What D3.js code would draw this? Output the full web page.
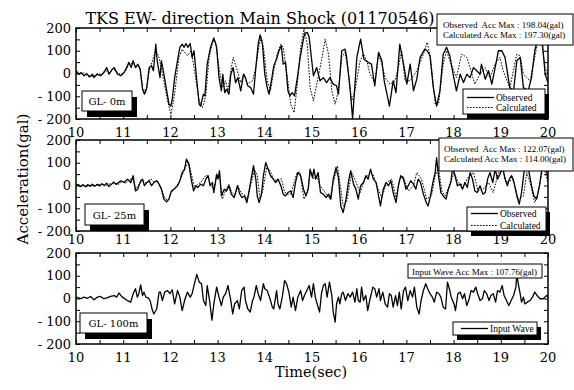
<!DOCTYPE html>
<html><head><meta charset="utf-8">
<script src="https://cdn.jsdelivr.net/npm/d3@7"></script>
<style>body{margin:0;background:#fff}svg{display:block}text{white-space:pre}</style>
</head><body><svg id="c" width="574" height="390"></svg>
<script>
// ---------------- DATA ----------------
const xTickValues = [10,11,12,13,14,15,16,17,18,19,20];
const xTickLabels = ["10","11","12","13","14","15","16","17","18","19","20"];
const yTickValues = [-200,-100,0,100,200];
const yTickLabels = ["- 200","- 100","0","100","200"];
const panelNames = ["GL- 0m","GL- 25m","GL- 100m"];
const titleText = "TKS EW- direction Main Shock (01170546)";
const xTitle = "Time(sec)";
const yTitle = "Acceleration(gal)";
const maxTexts0 = ["Observed  Acc Max : 198.04(gal)","Calculated Acc Max : 197.30(gal)"];
const maxTexts1 = ["Observed  Acc Max : 122.07(gal)","Calculated Acc Max : 114.00(gal)"];
const maxTexts2 = ["Input Wave Acc Max : 107.76(gal)"];
const legendNames = ["Observed","Calculated","Input Wave"];

// time (s), acceleration (gal)
const gl0Observed = [[10.00,12],[10.06,-3],[10.11,4],[10.17,-10],[10.23,0],[10.28,-15],[10.35,-3],[10.38,-18],[10.45,-3],[10.52,-10],[10.59,4],[10.65,26],[10.70,-3],[10.77,19],[10.81,26],[10.88,-3],[10.95,-10],[11.02,4],[11.09,34],[11.12,49],[11.17,26],[11.21,56],[11.26,26],[11.31,41],[11.36,19],[11.41,-69],[11.45,-91],[11.50,-62],[11.55,26],[11.60,34],[11.64,12],[11.69,129],[11.72,56],[11.78,-18],[11.81,56],[11.85,12],[11.97,-135],[12.01,-143],[12.04,-113],[12.09,-18],[12.15,56],[12.20,115],[12.25,129],[12.29,115],[12.33,132],[12.37,115],[12.42,132],[12.46,71],[12.50,100],[12.56,-32],[12.61,-135],[12.64,-143],[12.70,-91],[12.73,-98],[12.78,41],[12.85,115],[12.92,156],[12.98,115],[13.03,-18],[13.08,-76],[13.11,-3],[13.15,-84],[13.19,-69],[13.24,-91],[13.28,-3],[13.33,26],[13.38,-40],[13.43,-18],[13.49,-76],[13.55,-3],[13.59,-18],[13.64,-54],[13.70,-62],[13.76,-91],[13.81,26],[13.86,129],[13.90,170],[13.95,129],[14.00,-3],[14.05,-62],[14.09,-91],[14.14,-32],[14.19,34],[14.25,63],[14.30,100],[14.35,122],[14.39,41],[14.44,49],[14.49,-76],[14.53,-98],[14.58,-84],[14.63,-98],[14.69,-18],[14.75,71],[14.80,129],[14.84,173],[14.90,181],[14.94,159],[15.03,-10],[15.10,26],[15.17,-32],[15.24,-18],[15.31,-40],[15.38,-18],[15.45,-47],[15.52,-54],[15.56,-91],[15.63,100],[15.70,107],[15.73,78],[15.81,-76],[15.86,-198],[15.95,71],[16.03,151],[16.10,63],[16.19,49],[16.26,41],[16.33,-54],[16.41,93],[16.48,56],[16.53,-32],[16.64,-143],[16.72,-32],[16.78,-84],[16.86,129],[16.94,41],[17.01,-47],[17.08,41],[17.15,-76],[17.22,-25],[17.29,71],[17.39,107],[17.44,100],[17.50,78],[17.57,-62],[17.64,-143],[17.71,-76],[17.78,85],[17.85,115],[17.92,78],[17.99,-3],[18.06,-76],[18.14,-3],[18.21,-40],[18.28,-3],[18.35,-18],[18.42,26],[18.49,12],[18.56,-3],[18.59,41],[18.67,-25],[18.74,12],[18.81,-47],[18.88,26],[18.95,100],[19.02,100],[19.09,71],[19.19,-62],[19.27,-76],[19.34,56],[19.41,71],[19.48,-62],[19.58,-76],[19.65,-18],[19.72,100],[19.80,170],[19.87,160],[19.94,-3],[20.00,-40]];
const gl0Calculated = [[10.00,8],[10.08,-5],[10.15,5],[10.22,-8],[10.30,-10],[10.38,-12],[10.45,0],[10.55,-5],[10.62,15],[10.70,0],[10.78,20],[10.85,10],[10.95,-5],[11.05,10],[11.12,40],[11.20,45],[11.28,30],[11.35,30],[11.41,-62],[11.48,-84],[11.55,12],[11.69,100],[11.76,71],[11.86,-32],[11.94,-120],[12.01,-179],[12.08,-106],[12.18,71],[12.25,107],[12.36,78],[12.44,100],[12.50,26],[12.61,-121],[12.68,-150],[12.75,-98],[12.82,71],[12.91,151],[12.96,137],[13.03,26],[13.10,-62],[13.17,-32],[13.22,-76],[13.28,12],[13.33,71],[13.42,12],[13.49,-40],[13.56,-3],[13.63,-47],[13.74,-32],[13.81,26],[13.88,129],[13.93,159],[13.98,100],[14.05,-32],[14.12,-76],[14.19,12],[14.26,85],[14.34,129],[14.39,115],[14.48,-18],[14.55,-135],[14.62,-172],[14.69,-47],[14.76,115],[14.83,197],[14.90,129],[14.96,-62],[15.03,-121],[15.10,-47],[15.20,56],[15.28,151],[15.35,85],[15.42,-76],[15.49,-135],[15.56,-76],[15.63,71],[15.70,93],[15.77,12],[15.84,-121],[15.91,-76],[16.02,56],[16.09,85],[16.16,56],[16.23,-3],[16.33,-40],[16.41,85],[16.48,41],[16.55,-18],[16.65,-47],[16.76,-32],[16.83,26],[16.90,100],[16.97,-32],[17.08,-32],[17.22,12],[17.36,85],[17.44,137],[17.51,71],[17.61,-135],[17.68,-135],[17.78,41],[17.85,100],[17.92,56],[18.06,-18],[18.17,85],[18.28,71],[18.35,26],[18.45,-47],[18.56,-3],[18.67,26],[18.77,-18],[18.88,41],[18.98,71],[19.05,12],[19.19,-62],[19.34,85],[19.41,78],[19.48,-3],[19.62,-32],[19.83,188],[19.94,26],[20.00,-3]];
const gl25Observed = [[10.00,0],[10.05,5],[10.10,-5],[10.15,3],[10.20,-6],[10.25,4],[10.30,-4],[10.35,6],[10.40,-3],[10.45,5],[10.50,-2],[10.55,8],[10.60,0],[10.65,10],[10.70,-5],[10.75,5],[10.80,15],[10.85,5],[10.95,21],[11.02,13],[11.09,28],[11.16,13],[11.21,43],[11.26,-24],[11.31,-16],[11.37,21],[11.41,28],[11.45,-1],[11.50,13],[11.55,21],[11.60,-1],[11.65,13],[11.71,21],[11.76,6],[11.81,-16],[11.86,-60],[11.92,-72],[11.97,-60],[12.02,-24],[12.08,-16],[12.15,-1],[12.20,21],[12.25,57],[12.30,72],[12.34,116],[12.39,94],[12.44,28],[12.49,-24],[12.54,-1],[12.58,-9],[12.64,6],[12.70,-1],[12.75,28],[12.80,43],[12.84,-1],[12.89,13],[12.92,-31],[12.98,50],[13.01,28],[13.04,65],[13.08,-46],[13.14,-16],[13.19,-24],[13.24,-1],[13.29,-38],[13.35,-53],[13.42,-1],[13.47,-38],[13.52,-53],[13.57,-46],[13.62,-75],[13.66,-31],[13.71,28],[13.76,87],[13.81,28],[13.84,-46],[13.88,-75],[13.93,-38],[13.97,43],[14.02,101],[14.07,72],[14.12,43],[14.18,28],[14.23,13],[14.28,28],[14.34,-1],[14.39,-38],[14.44,-46],[14.49,-31],[14.55,-24],[14.60,-53],[14.65,13],[14.70,57],[14.76,43],[14.82,-16],[14.87,-46],[14.92,-16],[14.96,72],[15.01,35],[15.04,72],[15.08,28],[15.13,57],[15.18,-31],[15.24,-38],[15.30,-53],[15.35,-38],[15.40,-60],[15.45,28],[15.51,79],[15.56,35],[15.61,-90],[15.66,-119],[15.72,-60],[15.77,13],[15.82,65],[15.88,6],[15.93,-16],[15.98,-60],[16.03,-1],[16.09,13],[16.14,43],[16.19,28],[16.24,72],[16.30,28],[16.36,13],[16.41,-46],[16.45,-90],[16.51,-16],[16.57,13],[16.62,-1],[16.67,21],[16.72,-31],[16.78,-75],[16.83,-1],[16.88,43],[16.94,28],[16.99,-16],[17.04,-1],[17.09,21],[17.15,6],[17.20,-16],[17.25,28],[17.30,13],[17.36,-38],[17.42,-75],[17.46,-90],[17.51,-46],[17.56,13],[17.61,57],[17.64,122],[17.68,43],[17.73,-31],[17.78,-46],[17.84,-60],[17.89,-16],[17.94,13],[17.98,79],[18.03,43],[18.08,-1],[18.14,6],[18.19,-16],[18.24,13],[18.29,-9],[18.35,57],[18.40,28],[18.45,-24],[18.50,-31],[18.56,-1],[18.62,-38],[18.67,-31],[18.72,28],[18.77,57],[18.83,13],[18.88,72],[18.93,28],[18.98,50],[19.04,79],[19.09,28],[19.14,-1],[19.18,28],[19.23,43],[19.28,13],[19.34,-46],[19.39,-82],[19.44,-31],[19.49,57],[19.55,109],[19.60,57],[19.65,-1],[19.70,-46],[19.76,-60],[19.82,-1],[19.87,72],[19.94,100],[20.00,28]];
const gl25Calculated = [[10.00,2],[10.08,-4],[10.15,4],[10.22,-5],[10.30,2],[10.38,-3],[10.46,4],[10.55,5],[10.62,-2],[10.70,6],[10.80,10],[10.90,5],[10.98,18],[11.06,10],[11.12,25],[11.20,30],[11.27,-15],[11.35,10],[11.42,20],[11.50,8],[11.58,30],[11.65,15],[11.72,18],[11.80,-10],[11.88,-55],[11.95,-65],[12.02,-30],[12.10,-10],[12.18,10],[12.26,50],[12.33,85],[12.39,100],[12.45,45],[12.51,-10],[12.58,5],[12.65,15],[12.73,40],[12.78,45],[12.85,5],[12.92,-20],[12.98,40],[13.04,50],[13.10,-60],[13.17,-20],[13.24,5],[13.30,-30],[13.37,-45],[13.43,0],[13.50,-35],[13.57,-40],[13.63,-65],[13.70,0],[13.78,70],[13.84,45],[13.90,-60],[13.96,-20],[14.04,80],[14.10,70],[14.18,30],[14.26,20],[14.35,30],[14.42,-30],[14.50,-40],[14.56,-35],[14.63,20],[14.68,55],[14.74,60],[14.83,-60],[14.90,-30],[14.96,50],[15.00,57],[15.03,28],[15.10,43],[15.17,-1],[15.28,-31],[15.38,-60],[15.45,13],[15.54,87],[15.59,13],[15.66,-90],[15.73,-75],[15.84,57],[15.91,28],[16.02,-31],[16.12,28],[16.23,57],[16.31,43],[16.37,-1],[16.48,-53],[16.58,13],[16.69,28],[16.78,-53],[16.86,28],[16.93,43],[17.04,-24],[17.15,-1],[17.22,57],[17.32,28],[17.43,-60],[17.53,-46],[17.61,43],[17.68,79],[17.75,-24],[17.82,-46],[17.91,-1],[18.01,57],[18.10,13],[18.21,-1],[18.33,43],[18.42,57],[18.52,-24],[18.63,-16],[18.74,13],[18.84,-31],[18.95,57],[19.04,72],[19.12,13],[19.26,28],[19.37,-60],[19.48,-46],[19.55,57],[19.62,13],[19.72,-75],[19.79,-31],[19.90,87],[20.00,13]];
const gl100Input = [[10.00,6],[10.10,-1],[10.17,6],[10.24,1],[10.31,9],[10.38,-6],[10.45,6],[10.52,9],[10.59,-1],[10.66,3],[10.73,9],[10.81,13],[10.86,6],[10.91,24],[10.98,6],[11.09,-9],[11.16,-16],[11.21,21],[11.26,43],[11.30,6],[11.33,21],[11.37,60],[11.41,13],[11.44,28],[11.48,6],[11.53,3],[11.57,-9],[11.62,-53],[11.65,-68],[11.71,-46],[11.76,28],[11.79,28],[11.83,-9],[11.88,28],[11.94,35],[11.99,21],[12.04,38],[12.09,-24],[12.15,35],[12.20,6],[12.25,-53],[12.30,-9],[12.36,28],[12.42,6],[12.46,21],[12.51,65],[12.56,106],[12.61,72],[12.66,65],[12.70,-9],[12.75,-31],[12.78,57],[12.83,-9],[12.88,-95],[12.92,-24],[12.98,50],[13.03,6],[13.08,-31],[13.12,6],[13.17,21],[13.22,57],[13.28,-9],[13.32,-68],[13.36,-24],[13.42,-9],[13.46,-46],[13.51,35],[13.56,50],[13.59,-9],[13.64,-46],[13.69,-60],[13.74,-9],[13.77,6],[13.82,57],[13.86,21],[13.91,-9],[13.97,65],[14.00,43],[14.05,35],[14.10,6],[14.16,-38],[14.19,-46],[14.25,35],[14.28,-24],[14.32,-46],[14.37,6],[14.42,79],[14.46,65],[14.51,28],[14.56,-38],[14.60,6],[14.65,-53],[14.70,6],[14.76,35],[14.80,-9],[14.84,13],[14.89,35],[14.94,57],[14.99,6],[15.03,65],[15.07,6],[15.11,-24],[15.16,-60],[15.20,21],[15.24,57],[15.28,65],[15.32,6],[15.37,72],[15.42,13],[15.45,-60],[15.49,-104],[15.52,-24],[15.56,6],[15.59,-24],[15.63,21],[15.66,28],[15.71,-9],[15.76,21],[15.81,6],[15.86,28],[15.91,-16],[15.95,43],[15.98,-9],[16.02,-16],[16.05,50],[16.09,-9],[16.14,13],[16.18,-53],[16.23,-1],[16.29,50],[16.33,43],[16.37,6],[16.42,43],[16.45,-9],[16.50,28],[16.55,-24],[16.60,-38],[16.64,21],[16.68,13],[16.72,-38],[16.77,13],[16.81,-31],[16.85,28],[16.89,-46],[16.94,35],[16.98,50],[17.03,-9],[17.08,35],[17.13,6],[17.17,50],[17.22,-38],[17.27,-68],[17.31,-9],[17.36,35],[17.41,65],[17.45,43],[17.50,21],[17.55,6],[17.59,-16],[17.64,28],[17.69,21],[17.73,6],[17.78,-38],[17.83,-46],[17.87,72],[17.92,35],[17.95,6],[18.01,-24],[18.04,-53],[18.09,21],[18.14,28],[18.19,-1],[18.23,21],[18.28,-31],[18.32,-9],[18.37,35],[18.42,28],[18.47,50],[18.51,21],[18.56,-9],[18.61,-1],[18.65,35],[18.70,21],[18.75,-9],[18.79,13],[18.84,21],[18.89,-16],[18.93,35],[18.98,28],[19.03,57],[19.07,13],[19.12,-9],[19.17,-31],[19.22,-9],[19.27,13],[19.32,50],[19.34,108],[19.37,65],[19.41,21],[19.44,-16],[19.48,6],[19.51,-24],[19.56,-16],[19.62,-9],[19.67,6],[19.72,28],[19.77,13],[19.83,-1],[19.90,-1],[19.97,13],[20.00,6]];

// ---------------- DRAW ----------------
const svg = d3.select("#c");
const L = 76, R = 548, PH = 91;
const panelTops = [28, 140, 253];
const labelBase = [137, 244, 362];
const serif = "'DejaVu Serif', serif";
const times = "'Liberation Serif', 'Times New Roman', serif";
const x = d3.scaleLinear().domain([10,20]).range([L,R]);
const halfTicks = d3.range(10, 20.01, 0.5);
const yMinor = d3.range(-200, 200.01, 50);

const panels = [
  {series:[{d:gl0Observed,dash:null,w:1.3},{d:gl0Calculated,dash:"1.6,1.4",w:1}],
   note:maxTexts0, noteBox:[437,14,136,31], noteX:443, noteY:[28,38],
   legend:[0,1], legBox:[463,89,82,25], legY:[97.5,107.5], legX:467,
   nameBox:[82,91,50,20]},
  {series:[{d:gl25Observed,dash:null,w:1.3},{d:gl25Calculated,dash:"1.6,1.4",w:1}],
   note:maxTexts1, noteBox:[439,138,134,33], noteX:444, noteY:[152,162],
   legend:[0,1], legBox:[467,207,79,24], legY:[213.5,225.5], legX:471,
   nameBox:[85,204,59,21]},
  {series:[{d:gl100Input,dash:null,w:1.3}],
   note:maxTexts2, noteBox:[408,264,134,14], noteX:412, noteY:[274.5],
   legend:[2], legBox:[453,322,84,13], legY:[328.5], legX:461,
   nameBox:[80,313,67,20]}
];

panels.forEach((p, i) => {
  const top = panelTops[i], bot = top + PH;
  const y = d3.scaleLinear().domain([-200,200]).range([bot, top]);
  const g = svg.append("g");
  const cid = "clip" + i;
  svg.append("defs").append("clipPath").attr("id", cid)
    .append("rect").attr("x", L).attr("y", top).attr("width", R-L).attr("height", PH);

  const line = d3.line().x(d => x(d[0])).y(d => y(d[1]));
  const lg = g.append("g").attr("clip-path", `url(#${cid})`);
  p.series.slice().reverse().forEach(s => {
    lg.append("path").attr("d", line(s.d)).attr("fill","none")
      .attr("stroke","#000").attr("stroke-width", s.w)
      .attr("stroke-linejoin","round")
      .attr("stroke-dasharray", s.dash);
  });

  // ticks (inward) via axes
  const tk = 4;
  g.append("g").attr("transform",`translate(0,${bot})`)
    .call(d3.axisBottom(x).tickValues(halfTicks).tickSize(-tk).tickFormat(""))
    .call(a => a.select(".domain").remove());
  g.append("g").attr("transform",`translate(0,${top})`)
    .call(d3.axisTop(x).tickValues(halfTicks).tickSize(-tk).tickFormat(""))
    .call(a => a.select(".domain").remove());
  g.append("g").attr("transform",`translate(${L},0)`)
    .call(d3.axisLeft(y).tickValues(yMinor).tickSize(-tk).tickFormat(""))
    .call(a => a.select(".domain").remove());
  g.append("g").attr("transform",`translate(${R},0)`)
    .call(d3.axisRight(y).tickValues(yMinor).tickSize(-tk).tickFormat(""))
    .call(a => a.select(".domain").remove());
  g.selectAll(".tick line").attr("stroke","#000").attr("stroke-width",1);

  // frame
  g.append("rect").attr("x",L).attr("y",top).attr("width",R-L).attr("height",PH)
    .attr("fill","none").attr("stroke","#000").attr("stroke-width",1.5);

  // tick labels
  xTickValues.forEach((v,k) => {
    g.append("text").attr("x", x(v)).attr("y", labelBase[i]).attr("text-anchor","middle")
      .attr("font-family", serif).attr("font-size", 13).text(xTickLabels[k]);
  });
  yTickValues.forEach((v,k) => {
    g.append("text").attr("x", 71).attr("y", y(v) + 4.5).attr("text-anchor","end")
      .attr("font-family", serif).attr("font-size", 13).text(yTickLabels[k]);
  });

  // note box (max values)
  const nb = p.noteBox;
  g.append("rect").attr("x",nb[0]).attr("y",nb[1]).attr("width",nb[2]).attr("height",nb[3])
    .attr("fill","#fff").attr("stroke","#000").attr("stroke-width",1);
  p.note.forEach((t,k) => {
    g.append("text").attr("x",p.noteX).attr("y",p.noteY[k]).attr("font-family",times)
      .attr("font-size",9).text(t);
  });

  // legend box with shadow
  const lb = p.legBox;
  g.append("rect").attr("x",lb[0]+4).attr("y",lb[1]+5).attr("width",lb[2]).attr("height",lb[3]).attr("fill","#000");
  g.append("rect").attr("x",lb[0]).attr("y",lb[1]).attr("width",lb[2]).attr("height",lb[3])
    .attr("fill","#fff").attr("stroke","#000").attr("stroke-width",1);
  p.legend.forEach((li,k) => {
    const s = p.series[k];
    g.append("line").attr("x1",p.legX).attr("x2",p.legX+27).attr("y1",p.legY[k]).attr("y2",p.legY[k])
      .attr("stroke","#000").attr("stroke-width",s.w).attr("stroke-dasharray",s.dash);
    g.append("text").attr("x",p.legX+29).attr("y",p.legY[k]+3).attr("font-family",times)
      .attr("font-size",9.5).text(legendNames[li]);
  });

  // panel name box with shadow
  const pb = p.nameBox;
  g.append("rect").attr("x",pb[0]+5).attr("y",pb[1]+6).attr("width",pb[2]).attr("height",pb[3]).attr("fill","#000");
  g.append("rect").attr("x",pb[0]).attr("y",pb[1]).attr("width",pb[2]).attr("height",pb[3])
    .attr("fill","#fff").attr("stroke","#000").attr("stroke-width",1);
  g.append("text").attr("x",pb[0]+pb[2]/2).attr("y",pb[1]+pb[3]/2+4).attr("text-anchor","middle")
    .attr("font-family",serif).attr("font-size",10).text(panelNames[i]);
});

// titles
svg.append("text").attr("x",260).attr("y",24).attr("text-anchor","middle")
  .attr("font-family",serif).attr("font-size",16).text(titleText);
svg.append("text").attr("x",311).attr("y",377).attr("text-anchor","middle")
  .attr("font-family",serif).attr("font-size",14.5).text(xTitle);
svg.append("text").attr("transform","translate(28,179) rotate(-90)").attr("text-anchor","middle")
  .attr("font-family",serif).attr("font-size",15).text(yTitle);
</script></body></html>
